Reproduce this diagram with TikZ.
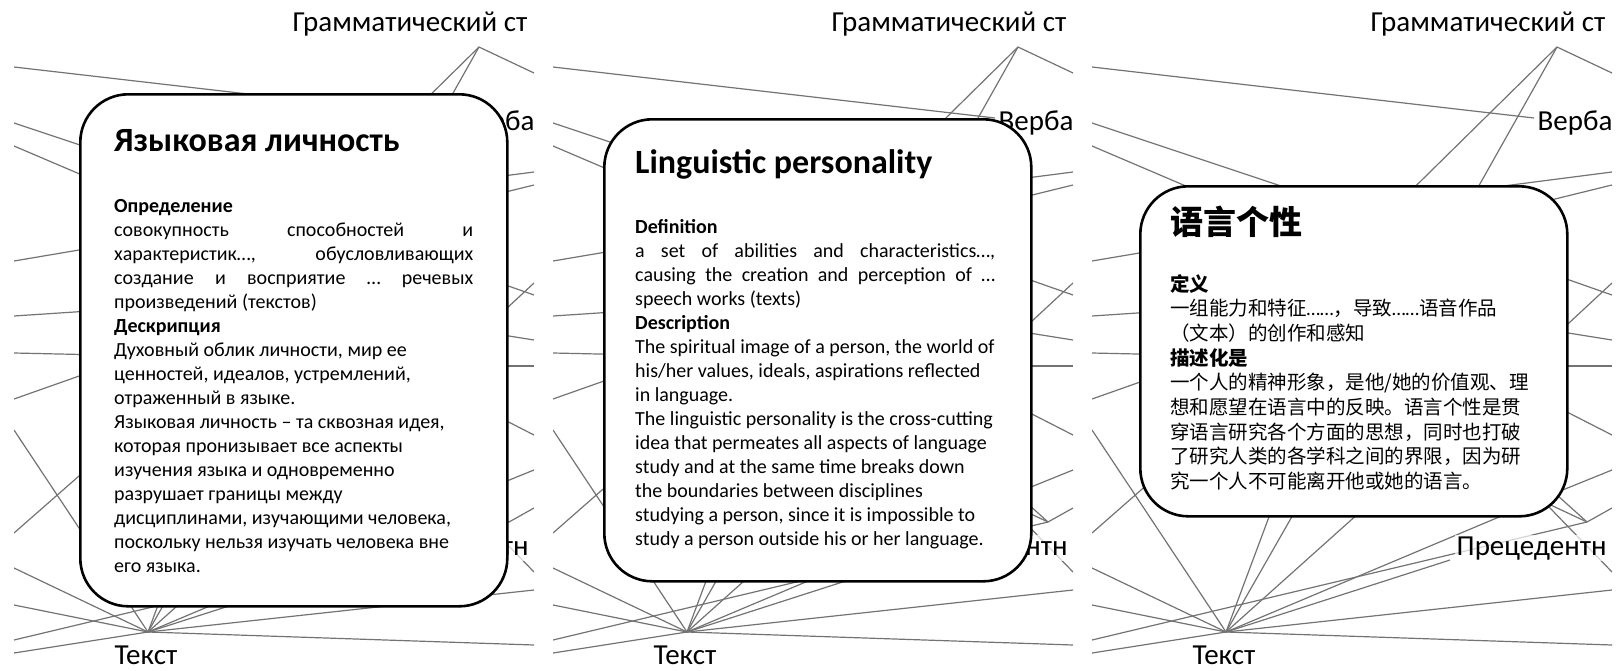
\documentclass[tikz,border=0pt]{standalone}
\usepackage{fontspec}
\setmainfont{Carlito}
\newfontfamily\cjkfont{Noto Sans CJK SC}
\usetikzlibrary{positioning,calc}

% justified line, and latin dots inside chinese text
\newcommand{\jrow}[2][360pt]{\makebox[#1][s]{#2}}
\newcommand{\lowdots}{{\rmfamily ……}}

\tikzset{
  link/.style={draw=black!55, line width=1.2pt},
  term/.style={font={\fontsize{29}{33}\selectfont}, fill=white, fill opacity=0.7,
               text opacity=1, inner sep=1.5pt},
  card/.style={rectangle, draw=black, line width=2.6pt, fill=white,
               rounded corners=48pt, anchor=north west, minimum width=427pt},
  cardtitle/.style={anchor=base west, inner sep=0pt,
                    font={\fontsize{34}{40}\selectfont\bfseries}},
  cardtext/.style={anchor=base west, inner sep=0pt, text width=400pt, align=flush left,
                   font={\fontsize{20}{24}\selectfont}},
}

% background graph, the same in every panel
\newcommand{\network}{%
  \clip (14,0) rectangle (534,670);
  % graph nodes
  \foreach \n/\x/\y in {gram/479/47, verb/456/118, prec/372/560, tekst/148/632, cross/509/522}
    \coordinate (\n) at (\x,\y);
  % ends hidden under the cards
  \foreach \n/\x/\y in {hb/260/205, hc/150/204, hg1/290/233, hg2/385/214,
      hr7/340/197, hr8/420/213, hr1/440/262, hr2/450/361, hr3/440/325, hr4/440/366,
      hr5/440/387, hr6/450/504, hl1/150/238, hl2/150/307, hl3/150/356, hl4/150/351,
      hl5/120/440, ht7/210/466, ht8/240/471, ht9/320/478, ht10/440/509,
      hx3/430/485, hx4/450/469, hx5/440/475}
    \coordinate (\n) at (\x,\y);
  % ends cut by the panel edge
  \foreach \n/\x/\y in {ea/14/67, eb/14/123, ec/14/146, el1/14/261, el2/14/316,
      el3/14/353, el4/14/399, el5/14/533, et1/14/430, et2/14/568, et3/14/605,
      et4/14/653, ex1/14/640, eg/534/73, er7/534/172, er8/534/185, er1/534/295,
      er2/534/283, er3/534/340, er4/534/366, er5/534/435, er6/534/470,
      ex2/534/508, ex5/534/572, et5/534/645, et6/534/590}
    \coordinate (\n) at (\x,\y);
  \foreach \a/\b in {ea/verb, eb/hb, ec/hc, gram/eg, gram/hg1, gram/hg2,
      hr7/er7, hr8/er8, hr1/er1, hr2/er2, hr3/er3, hr4/er4, hr5/er5, hr6/er6,
      el1/hl1, el2/hl2, el3/hl3, el4/hl4, el5/hl5,
      tekst/et1, tekst/et2, tekst/et3, tekst/et4, tekst/et5, tekst/et6,
      tekst/ht7, tekst/ht8, tekst/ht9, tekst/ht10, tekst/prec,
      ex1/cross, cross/ex2, hx3/cross, hx4/cross, hx5/ex5}
    \draw[link] (\a) -- (\b);
  \node[term, anchor=base west] (gramlbl) at (291,31) {Грамматический ст};
  \node[term, anchor=base west] (verblbl) at (458,130) {Верба};
  \node[term, anchor=base west] (preclbl) at (377,555) {Прецедентн};
  \node[term, anchor=base, inner sep=0.5pt] (tekstlbl) at (146,664) {Текст};
}

\begin{document}
\begin{tikzpicture}[x=1pt, y=-1pt]
  \useasboundingbox (0,0) rectangle (1617,670);

  % panel 1: russian
  \begin{scope}[name prefix=ru-]
    \network
    \node[card, minimum height=512pt] (card) at (79,93) {};
    \node[cardtitle] (title) at ($(card.north west)+(35,58)$) {Языковая личность};
    \node[cardtext] (body) at ($(card.north west)+(35,119)$) {%
      {\bfseries Определение}\\
      \jrow[359pt]{совокупность способностей и}\\
      \jrow[359pt]{характеристик…, обусловливающих}\\
      \jrow[359pt]{создание и восприятие … речевых}\\
      произведений (текстов)\\
      {\bfseries Дескрипция}\\
      Духовный облик личности, мир ее\\
      ценностей, идеалов, устремлений,\\
      отраженный в языке.\\
      Языковая личность – та сквозная идея,\\
      которая пронизывает все аспекты\\
      изучения языка и одновременно\\
      разрушает границы между\\
      дисциплинами, изучающими человека,\\
      поскольку нельзя изучать человека вне\\
      его языка.};
  \end{scope}

  % panel 2: english
  \begin{scope}[xshift=539pt, name prefix=en-]
    \network
    \node[card, minimum height=462pt] (card) at (64,118) {};
    \node[cardtitle] (title) at ($(card.north west)+(32,55)$) {Linguistic personality};
    \node[cardtext] (body) at ($(card.north west)+(32,115)$) {%
      {\bfseries Definition}\\
      \jrow{a set of abilities and characteristics…,}\\
      \jrow{causing the creation and perception of …}\\
      speech works (texts)\\
      {\bfseries Description}\\
      The spiritual image of a person, the world of\\
      his/her values, ideals, aspirations reflected\\
      in language.\\
      The linguistic personality is the cross-cutting\\
      idea that permeates all aspects of language\\
      study and at the same time breaks down\\
      the boundaries between disciplines\\
      studying a person, since it is impossible to\\
      study a person outside his or her language.};
  \end{scope}

  % panel 3: chinese
  \begin{scope}[xshift=1078pt, name prefix=zh-]
    \network
    \node[card, minimum height=330pt] (card) at (61,185) {};
    \node[cardtitle, font={\fontsize{33}{38}\selectfont\cjkfont\bfseries}] (title)
      at ($(card.north west)+(31,49)$) {语言个性};
    \node[cardtext, font={\fontsize{19.5}{24.7}\selectfont\cjkfont}] (body)
      at ($(card.north west)+(31,106)$) {%
      {\bfseries 定义}\\
      一组能力和特征\lowdots，导致\lowdots 语音作品\\
      （文本）的创作和感知\\
      {\bfseries 描述化是}\\
      一个人的精神形象，是他/她的价值观、理\\
      想和愿望在语言中的反映。语言个性是贯\\
      穿语言研究各个方面的思想，同时也打破\\
      了研究人类的各学科之间的界限，因为研\\
      究一个人不可能离开他或她的语言。};
  \end{scope}
\end{tikzpicture}
\end{document}
